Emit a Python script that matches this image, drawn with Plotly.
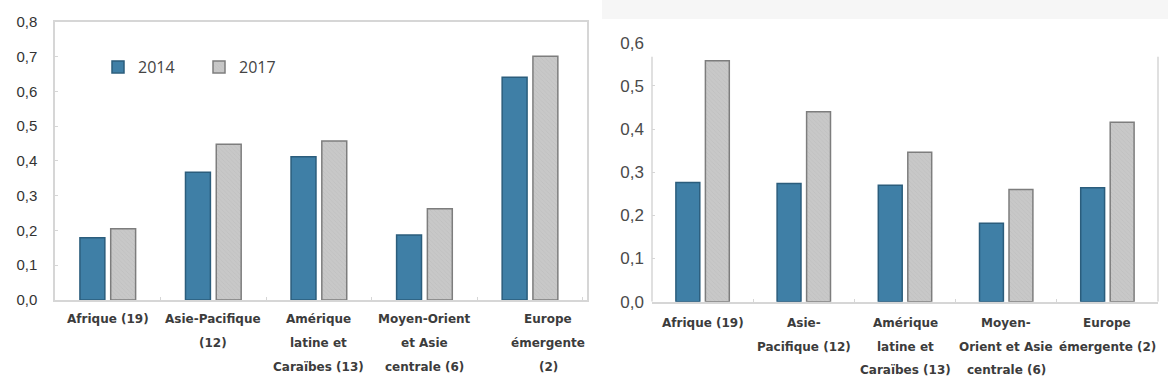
import plotly.graph_objects as go

# ---------------- data ----------------
categories = ["Afrique", "Asie-Pacifique", "Amérique latine et Caraïbes",
              "Moyen-Orient et Asie centrale", "Europe émergente"]

labels_left = [["Afrique (19)"],
               ["Asie-Pacifique", "(12)"],
               ["Amérique", "latine et", "Caraïbes (13)"],
               ["Moyen-Orient", "et Asie", "centrale (6)"],
               ["Europe", "émergente", "(2)"]]
labels_right = [["Afrique (19)"],
                ["Asie-", "Pacifique (12)"],
                ["Amérique", "latine et", "Caraïbes (13)"],
                ["Moyen-", "Orient et Asie", "centrale (6)"],
                ["Europe", "émergente (2)"]]

left_2014 = [0.179, 0.367, 0.412, 0.187, 0.640]
left_2017 = [0.205, 0.448, 0.457, 0.262, 0.701]
right_2014 = [0.276, 0.274, 0.270, 0.182, 0.264]
right_2017 = [0.558, 0.440, 0.346, 0.260, 0.416]

series_names = ["2014", "2017"]

# ---------------- styles ----------------
W, H = 1168, 392
BLUE, BLUE_LINE = "#3f7fa6", "#2b5d7c"
GREY, GREY_LINE = "#c8c8c8", "#7d7d7d"
AXIS = "#d6d6d6"

def px_x(v):
    return v / W

def px_y(v):
    return (H - v) / H

fig = go.Figure()

def add_pair(v14, v17, xa, ya, show):
    fig.add_trace(go.Bar(
        x=categories, y=v14, name=series_names[0], xaxis=xa, yaxis=ya,
        marker=dict(color=BLUE, line=dict(color=BLUE_LINE, width=1.5)),
        showlegend=show, legendgroup="a"))
    fig.add_trace(go.Bar(
        x=categories, y=v17, name=series_names[1], xaxis=xa, yaxis=ya,
        marker=dict(color=GREY, line=dict(color=GREY_LINE, width=1.5),
                    pattern=dict(shape="\\", fgcolor="#b8b8b8", bgcolor=GREY,
                                 size=3, solidity=0.25)),
        showlegend=show, legendgroup="b"))

add_pair(left_2014, left_2017, "x", "y", True)
add_pair(right_2014, right_2017, "x2", "y2", False)

tickfont_l = dict(family="Liberation Sans, Arial, sans-serif", size=15, color="#333333")
tickfont_r = dict(family="Liberation Sans, Arial, sans-serif", size=17, color="#4a4a4a")

fig.update_layout(
    width=W, height=H,
    margin=dict(l=0, r=0, t=0, b=0, autoexpand=False),
    paper_bgcolor="white", plot_bgcolor="white",
    separators=", ",
    barmode="group", bargap=0.417, bargroupgap=0.19,
    xaxis=dict(domain=[px_x(55), px_x(587)], anchor="y",
               showline=True, linecolor=AXIS, linewidth=1.5, mirror=True,
               showticklabels=False, ticks="inside", tickson="boundaries",
               ticklen=3, tickcolor=AXIS, showgrid=False, zeroline=False),
    yaxis=dict(domain=[px_y(300), px_y(21.7)], anchor="x", range=[0, 0.8],
               dtick=0.1, tickformat=".1f", showline=True, linecolor=AXIS,
               linewidth=1.5, mirror=True, ticks="inside", ticklen=3,
               tickcolor=AXIS, showgrid=False, zeroline=False,
               tickfont=tickfont_l, ticklabelstandoff=13),
    xaxis2=dict(domain=[px_x(652), px_x(1158)], anchor="y2",
                showline=True, linecolor=AXIS, linewidth=1.5,
                showticklabels=False, ticks="inside", tickson="boundaries",
                ticklen=3, tickcolor=AXIS, showgrid=False, zeroline=False),
    yaxis2=dict(domain=[px_y(301.7), px_y(42.7)], anchor="x2", range=[0, 0.6],
                dtick=0.1, tickformat=".1f", showline=False,
                ticks="inside", ticklen=3, tickcolor=AXIS,
                showgrid=False, zeroline=False,
                tickfont=tickfont_r, ticklabelstandoff=7),
    legend=dict(orientation="h", x=px_x(98), y=px_y(67), xanchor="left",
                yanchor="middle", bgcolor="rgba(0,0,0,0)",
                font=dict(family="Open Sans, sans-serif", size=16, color="#444444"),
                entrywidth=56, entrywidthmode="pixels", traceorder="normal"),
    showlegend=True,
)

# right panel frame (left & right verticals stop below the top tick)
for xd in (0, 1):
    fig.add_shape(type="line", xref="x2 domain", yref="y2",
                  x0=xd, x1=xd, y0=0, y1=0.5675,
                  line=dict(color=AXIS, width=1.5))

# light grey strip at top of right picture
fig.add_shape(type="rect", xref="paper", yref="paper",
              x0=px_x(602), x1=1, y0=px_y(19), y1=1,
              fillcolor="#f6f6f6", line=dict(width=0), layer="below")

# category labels (multi-line, wide line spacing)
lab_font = dict(family="DejaVu Sans, sans-serif", size=12, color="#3c3c3c")

def add_labels(lines_list, xref, base_paper, offsets, xshifts):
    for cat, lines, xs in zip(categories, lines_list, xshifts):
        for i, line in enumerate(lines):
            fig.add_annotation(x=cat, xref=xref, y=base_paper, yref="paper",
                               text="<b>" + line + "</b>", showarrow=False,
                               yanchor="middle", xanchor="center",
                               yshift=-offsets[i], xshift=xs, font=lab_font)

add_labels(labels_left, "x", px_y(300), [19, 43, 67], [0, 0, 0, 0, 18])
add_labels(labels_right, "x2", px_y(301.7), [21, 45, 68], [0, 0, 0, 0, 0])

fig.write_html("out.html")
